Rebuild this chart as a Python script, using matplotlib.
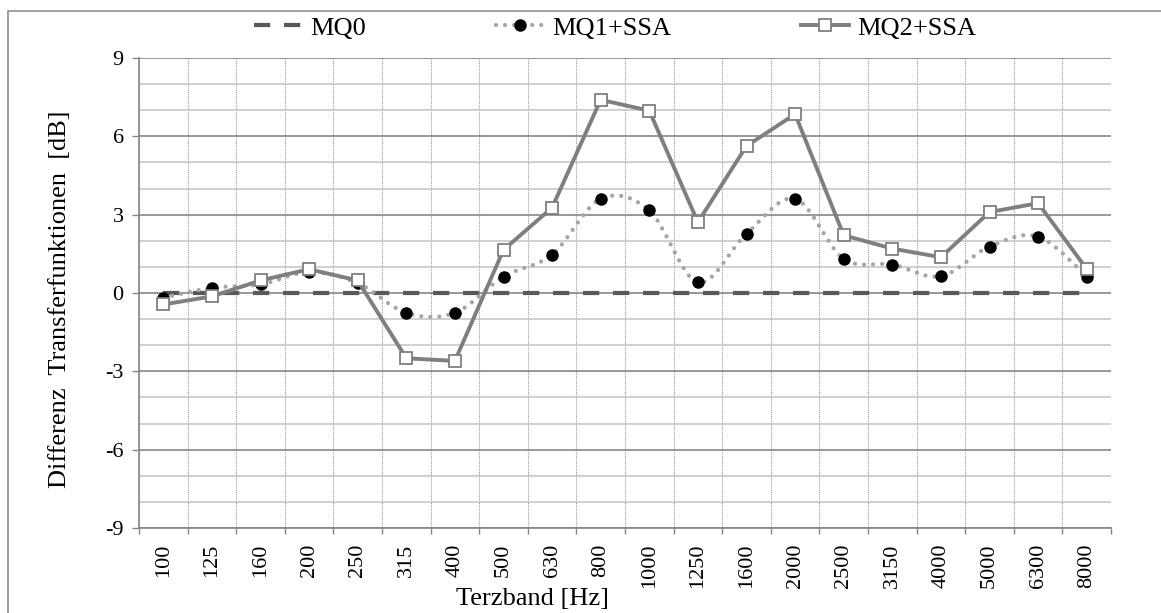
import matplotlib
matplotlib.use("Agg")
import matplotlib.pyplot as plt
import numpy as np
from matplotlib.path import Path
from matplotlib.patches import PathPatch, Rectangle
from matplotlib.lines import Line2D
from matplotlib.ticker import MultipleLocator, FixedLocator

plt.rcParams['font.family'] = ['Liberation Serif', 'DejaVu Serif']
plt.rcParams['axes.unicode_minus'] = False

bands = ["100", "125", "160", "200", "250", "315", "400", "500", "630", "800",
         "1000", "1250", "1600", "2000", "2500", "3150", "4000", "5000", "6300", "8000"]
mq0 = [0.0] * 20
mq1_ssa = [-0.18, 0.20, 0.33, 0.80, 0.38, -0.76, -0.76, 0.63, 1.47, 3.61,
           3.16, 0.41, 2.27, 3.61, 1.31, 1.09, 0.64, 1.78, 2.16, 0.63]
mq2_ssa = [-0.44, -0.13, 0.48, 0.91, 0.48, -2.50, -2.60, 1.65, 3.27, 7.40,
           6.98, 2.71, 5.63, 6.85, 2.21, 1.70, 1.37, 3.10, 3.44, 0.92]

W, H = 1161, 613
fig = plt.figure(figsize=(W / 100, H / 100), dpi=100)
ax = fig.add_axes([139 / W, 1 - 528 / H, 972 / W, 470 / H])

x = np.arange(len(bands))

# MQ0 - dashed zero line
ax.plot(x, mq0, color="#595959", lw=3.0, dashes=(3.9, 3.3), zorder=3)

# MQ1+SSA - smoothed dotted line (Excel style), black dots
pts = np.column_stack([x, mq1_ssa]).astype(float)
n = len(pts)
verts = [pts[0]]
codes = [Path.MOVETO]
for i in range(n - 1):
    p0 = pts[max(i - 1, 0)]
    p1 = pts[i]
    p2 = pts[i + 1]
    p3 = pts[min(i + 2, n - 1)]
    verts += [p1 + (p2 - p0) / 6, p2 - (p3 - p1) / 6, p2]
    codes += [Path.CURVE4] * 3
curve = PathPatch(Path(verts, codes), facecolor="none", edgecolor="#a6a6a6",
                  lw=3.1, linestyle=(0, (0.001, 2.1)), capstyle="round", zorder=4)
ax.add_patch(curve)
ax.plot(x, mq1_ssa, ls="none", marker="o", ms=8, color="black", zorder=5)

# MQ2+SSA - solid line with white squares
ax.plot(x, mq2_ssa, color="#7f7f7f", lw=2.8, marker="s", ms=8,
        mfc="white", mec="#7f7f7f", mew=1.3, zorder=6)

ax.set_xlim(-0.5, len(bands) - 0.5)
ax.set_ylim(-9, 9)

ax.xaxis.set_major_locator(FixedLocator(x))
ax.set_xticklabels(bands, rotation=90)
ax.xaxis.set_minor_locator(FixedLocator(np.arange(-0.5, len(bands), 1.0)))
ax.yaxis.set_major_locator(MultipleLocator(3))
ax.yaxis.set_minor_locator(MultipleLocator(1))

ax.tick_params(axis="x", which="major", length=0, pad=11, labelsize=16)
ax.tick_params(axis="x", which="minor", length=4, width=1, color="#868686", direction="out")
ax.tick_params(axis="y", which="major", length=5, width=1, color="#868686",
               direction="out", pad=6, labelsize=16)
ax.tick_params(axis="y", which="minor", length=0)

ax.yaxis.grid(True, which="major", color="#868686", lw=1.2)
ax.yaxis.grid(True, which="minor", color="#c4c4c4", lw=1.1)
ax.xaxis.grid(True, which="minor", color="#9a9a9a", lw=0.8, linestyle=(0, (1, 1)))
ax.xaxis.grid(False, which="major")
ax.set_axisbelow(True)

for s in ["top", "right"]:
    ax.spines[s].set_visible(False)
for s in ["left", "bottom"]:
    ax.spines[s].set_color("#868686")
    ax.spines[s].set_linewidth(1.2)

ax.set_xlabel("Terzband [Hz]", fontsize=19)
ax.xaxis.set_label_coords((532 - 139) / 972, -0.128)
ax.set_ylabel("Differenz  Transferfunktionen  [dB]", fontsize=19)
ax.yaxis.set_label_coords((71 - 139) / 972, 0.487)

handles = [
    Line2D([], [], color="#595959", lw=3.0, dashes=(3.9, 3.3)),
    Line2D([], [], color="#a6a6a6", lw=3.1, linestyle=(0, (0.001, 2.1)),
           dash_capstyle="round", marker="o", ms=8, mfc="black", mec="black"),
    Line2D([], [], color="#7f7f7f", lw=2.8, marker="s", ms=8,
           mfc="white", mec="#7f7f7f", mew=1.3),
]
fig.legend(handles, ["MQ0", "MQ1+SSA", "MQ2+SSA"], loc="center",
           bbox_to_anchor=(615 / W, 1 - 28 / H), ncol=3, frameon=False,
           fontsize=19, handlelength=1.85, handletextpad=0.3, columnspacing=4.9,
           borderpad=0, numpoints=1)

fig.add_artist(Rectangle((8 / W, -0.05), 1.2, 1.05 - 11 / H, transform=fig.transFigure,
                         facecolor="none", edgecolor="#868686", lw=1.1))

fig.savefig("out.png", dpi=100)
